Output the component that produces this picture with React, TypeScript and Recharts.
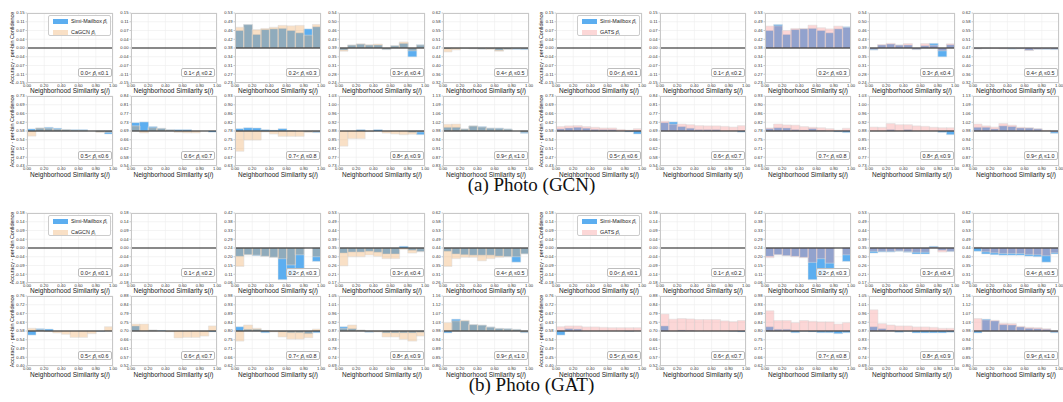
import React from "react";
import { BarChart, Bar, XAxis, YAxis, CartesianGrid, ReferenceLine } from "recharts";

// bins of neighborhood similarity
const binCenters = [0.05, 0.15, 0.25, 0.35, 0.45, 0.55, 0.65, 0.75, 0.85, 0.95];
const xTicks = [0, 0.2, 0.4, 0.6, 0.8, 1];
const confEdges = ["0.0", "0.1", "0.2", "0.3", "0.4", "0.5", "0.6", "0.7", "0.8", "0.9", "1.0"];

// y tick labels, top to bottom
const yLabelsA = [
  ["0.15", "0.11", "0.07", "0.04", "0.00", "-0.04", "-0.07", "-0.11", "-0.15"],
  ["0.15", "0.11", "0.07", "0.04", "0.00", "-0.04", "-0.07", "-0.11", "-0.15"],
  ["0.53", "0.49", "0.46", "0.42", "0.38", "0.34", "0.31", "0.27", "0.23"],
  ["0.54", "0.50", "0.46", "0.43", "0.39", "0.35", "0.31", "0.28", "0.24"],
  ["0.62", "0.58", "0.55", "0.51", "0.47", "0.44", "0.40", "0.36", "0.32"],
  ["0.73", "0.69", "0.66", "0.62", "0.58", "0.54", "0.51", "0.47", "0.43"],
  ["0.84", "0.81", "0.77", "0.73", "0.69", "0.66", "0.62", "0.58", "0.54"],
  ["0.93", "0.90", "0.86", "0.82", "0.78", "0.75", "0.71", "0.67", "0.63"],
  ["1.03", "1.00", "0.96", "0.92", "0.88", "0.85", "0.81", "0.77", "0.73"],
  ["1.13", "1.09", "1.06", "1.02", "0.98", "0.94", "0.91", "0.87", "0.83"],
];
const yLabelsB = [
  ["0.18", "0.14", "0.09", "0.04", "0.00", "-0.04", "-0.09", "-0.14", "-0.18"],
  ["0.18", "0.14", "0.09", "0.04", "0.00", "-0.04", "-0.09", "-0.14", "-0.18"],
  ["0.42", "0.38", "0.33", "0.29", "0.24", "0.20", "0.15", "0.11", "0.06"],
  ["0.53", "0.49", "0.44", "0.39", "0.35", "0.30", "0.26", "0.21", "0.17"],
  ["0.62", "0.58", "0.53", "0.49", "0.44", "0.40", "0.35", "0.31", "0.26"],
  ["0.76", "0.72", "0.67", "0.63", "0.58", "0.54", "0.49", "0.45", "0.40"],
  ["0.88", "0.84", "0.79", "0.75", "0.70", "0.66", "0.61", "0.57", "0.52"],
  ["0.98", "0.93", "0.89", "0.84", "0.80", "0.75", "0.71", "0.66", "0.62"],
  ["1.05", "1.01", "0.96", "0.92", "0.87", "0.83", "0.78", "0.74", "0.69"],
  ["1.16", "1.12", "1.07", "1.03", "0.98", "0.94", "0.89", "0.85", "0.80"],
];
const halfRangeA = 0.15;
const halfRangeB = 0.18;

// (a) Photo (GCN): accuracy - confidence per bin, one row per confidence range
const simiA = [
  [0, 0, 0, 0, 0, 0, 0, 0, 0, 0],
  [0, 0, 0, 0, 0, 0, 0, 0, 0, 0],
  [0.075, 0.101, 0.058, 0.079, 0.082, 0.084, 0.075, 0.065, 0.082, 0.091],
  [-0.009, 0.013, 0.017, 0.013, 0.013, -0.007, 0.010, 0.020, -0.038, 0.014],
  [-0.004, -0.002, -0.002, -0.003, -0.005, -0.004, -0.010, -0.006, -0.006, -0.007],
  [0.009, 0.013, 0.016, 0.012, 0.007, 0.006, 0.006, 0.000, -0.004, -0.013],
  [0.036, 0.039, 0.019, 0.012, 0.006, 0.006, 0.006, 0.000, 0.000, -0.005],
  [0.010, 0.014, 0.013, 0.006, 0.004, 0.010, 0.002, 0.000, -0.004, -0.007],
  [0.000, 0.000, 0.006, 0.000, 0.006, 0.000, 0.000, 0.000, -0.006, -0.016],
  [0.016, 0.016, 0.009, 0.022, 0.019, 0.013, 0.013, 0.009, 0.000, -0.010],
];
const cagcnA = [
  [0, 0, 0, 0, 0, 0, 0, 0, 0, 0],
  [0, 0, 0, 0, 0, 0, 0, 0, 0, 0],
  [0.089, 0.100, 0.079, 0.084, 0.089, 0.097, 0.095, 0.097, 0.055, 0.101],
  [-0.014, 0.013, 0.018, 0.014, 0.017, -0.006, 0.010, 0.026, -0.012, 0.013],
  [-0.017, -0.008, -0.002, -0.003, -0.005, -0.006, -0.014, -0.006, -0.003, -0.004],
  [-0.022, 0.013, 0.012, 0.008, 0.006, 0.003, 0.002, 0.000, -0.006, -0.006],
  [0.022, -0.008, 0.014, 0.011, 0.005, -0.006, -0.008, -0.008, 0.000, 0.000],
  [-0.087, -0.039, -0.039, -0.004, -0.013, -0.023, -0.023, -0.023, -0.006, -0.004],
  [-0.065, -0.033, -0.033, -0.003, 0.000, -0.009, -0.013, -0.016, -0.014, -0.004],
  [0.029, 0.030, 0.009, 0.022, 0.017, 0.012, 0.011, 0.008, 0.000, -0.006],
];
const gatsA = [
  [0, 0, 0, 0, 0, 0, 0, 0, 0, 0],
  [0, 0, 0, 0, 0, 0, 0, 0, 0, 0],
  [0.094, 0.095, 0.075, 0.084, 0.084, 0.098, 0.087, 0.082, 0.094, 0.088],
  [-0.006, 0.015, 0.020, 0.013, 0.019, -0.006, 0.019, 0.012, -0.012, 0.018],
  [-0.003, -0.001, -0.002, -0.003, -0.002, -0.003, -0.011, -0.005, -0.004, -0.005],
  [0.019, 0.022, 0.023, 0.019, 0.016, 0.013, 0.013, 0.007, 0.004, 0.010],
  [0.042, 0.029, 0.030, 0.027, 0.023, 0.022, 0.022, 0.020, 0.017, 0.023],
  [0.013, 0.030, 0.026, 0.025, 0.019, 0.016, 0.014, 0.010, 0.004, 0.012],
  [0.017, 0.016, 0.032, 0.027, 0.027, 0.022, 0.020, 0.016, 0.014, 0.014],
  [0.030, 0.022, 0.017, 0.032, 0.025, 0.016, 0.014, 0.010, 0.003, -0.004],
];

// (b) Photo (GAT)
const simiB = [
  [0, 0, 0, 0, 0, 0, 0, 0, 0, 0],
  [0, 0, 0, 0, 0, 0, 0, 0, 0, 0],
  [-0.043, -0.035, -0.040, -0.043, -0.048, -0.163, -0.142, -0.112, 0.000, -0.069],
  [-0.026, -0.021, -0.021, -0.017, -0.022, -0.031, -0.031, 0.009, -0.012, -0.019],
  [-0.017, -0.031, -0.035, -0.037, -0.037, -0.037, -0.042, -0.045, -0.073, -0.031],
  [-0.021, 0.012, 0.010, 0.000, 0.000, 0.000, 0.000, 0.000, -0.002, 0.000],
  [0.026, 0.000, 0.005, 0.003, 0.000, 0.000, 0.000, 0.000, -0.002, -0.005],
  [0.022, 0.009, 0.009, -0.009, -0.002, -0.005, -0.009, -0.009, -0.014, -0.009],
  [0.022, 0.012, 0.005, -0.007, -0.003, -0.010, -0.010, -0.010, -0.010, -0.007],
  [-0.010, 0.061, 0.052, 0.033, 0.031, 0.021, 0.014, 0.012, 0.009, -0.009],
];
const cagcnB = [
  [0, 0, 0, 0, 0, 0, 0, 0, 0, 0],
  [0, 0, 0, 0, 0, 0, 0, 0, 0, 0],
  [-0.095, -0.035, -0.037, -0.043, -0.048, -0.055, -0.087, -0.035, 0.000, -0.045],
  [-0.092, -0.045, -0.045, -0.036, -0.043, -0.055, -0.055, -0.007, -0.026, -0.019],
  [-0.095, -0.055, -0.048, -0.048, -0.066, -0.055, -0.048, -0.045, -0.045, -0.030],
  [0.014, 0.007, -0.003, -0.010, -0.017, -0.033, -0.033, -0.014, 0.000, 0.022],
  [0.036, 0.036, 0.005, 0.000, -0.004, -0.036, -0.033, -0.033, -0.026, 0.026],
  [-0.052, 0.031, 0.014, 0.003, -0.005, -0.031, -0.042, -0.042, -0.035, 0.010],
  [0.014, 0.031, 0.005, -0.003, -0.005, -0.031, -0.031, -0.043, -0.052, -0.026],
  [0.043, 0.052, 0.055, 0.033, 0.030, 0.020, 0.013, 0.011, 0.008, -0.006],
];
const gatsB = [
  [0, 0, 0, 0, 0, 0, 0, 0, 0, 0],
  [0, 0, 0, 0, 0, 0, 0, 0, 0, 0],
  [-0.050, -0.035, -0.040, -0.045, -0.050, -0.074, -0.055, -0.078, 0.000, -0.035],
  [-0.017, -0.017, -0.017, -0.015, -0.019, -0.022, -0.022, 0.005, -0.021, -0.017],
  [0.004, -0.020, -0.025, -0.028, -0.028, -0.028, -0.033, -0.035, -0.040, -0.025],
  [0.022, 0.026, 0.026, 0.021, 0.021, 0.019, 0.017, 0.017, 0.017, 0.017],
  [0.087, 0.061, 0.064, 0.062, 0.059, 0.059, 0.059, 0.052, 0.048, 0.054],
  [0.104, 0.054, 0.054, 0.043, 0.054, 0.050, 0.047, 0.047, 0.036, 0.043],
  [0.109, 0.038, 0.031, 0.026, 0.026, 0.021, 0.021, 0.019, 0.014, 0.014],
  [0.064, 0.057, 0.055, 0.040, 0.038, 0.024, 0.019, 0.017, 0.012, -0.005],
];

const BLUE = "#5caef0";
const PEACH = "#eea65c";
const PINK = "#f68d8d";
const OVERLAY_ALPHA = 0.35;

const PW = 86; // plot width
const PH = 70; // plot height
const YW = 22;
const MT = 3;
const XH = 12;
const MR = 6;
const SANS = "'Liberation Sans', Arial, sans-serif";

const colLeftsL = [27, 130.5, 235, 339, 443];
const colLeftsR = [556, 660, 765, 869, 973];

type PanelProps = {
  left: number;
  top: number;
  r: number;
  labels: string[];
  simi: number[];
  other: number[];
  otherColor: string;
  idx: number;
  legendName?: string;
};

function Panel({ left, top, r, labels, simi, other, otherColor, idx, legendName }: PanelProps) {
  const data = binCenters.map((x, i) => ({ x, s: simi[i], o: other[i] }));
  const step = r / 4;
  const yTicks = [-4, -3, -2, -1, 0, 1, 2, 3, 4].map((k) => k * step);
  const fmtY = (v: number) => labels[4 - Math.round(v / step)];
  const W = YW + PW + MR;
  const H = MT + PH + XH;
  return (
    <div style={{ position: "absolute", left: left - YW, top: top - MT, width: W, height: H }}>
      <BarChart width={W} height={H} data={data} margin={{ top: MT, right: MR, left: 0, bottom: 0 }} barCategoryGap={0} barGap={0}>
        <CartesianGrid xAxisId="n" stroke="#ededed" strokeWidth={0.6} />
        <XAxis
          xAxisId="n"
          type="number"
          dataKey="x"
          domain={[0, 1]}
          ticks={xTicks}
          interval={0}
          allowDataOverflow
          tickFormatter={(v: number) => v.toFixed(2)}
          height={XH}
          tickSize={1.2}
          tickMargin={0.3}
          tickLine={{ stroke: "#999", strokeWidth: 0.5 }}
          axisLine={false}
          tick={{ fontSize: 4.2, fill: "#333", fontFamily: SANS }}
        />
        <XAxis xAxisId="o" type="number" dataKey="x" domain={[0, 1]} allowDataOverflow hide />
        <YAxis
          type="number"
          domain={[-r, r]}
          ticks={yTicks}
          interval={0}
          allowDataOverflow
          tickFormatter={fmtY}
          width={YW}
          tickSize={1.5}
          tickMargin={1}
          tickLine={{ stroke: "#999", strokeWidth: 0.5 }}
          axisLine={false}
          tick={{ fontSize: 4.2, fill: "#333", fontFamily: SANS }}
        />
        <Bar xAxisId="n" dataKey="s" fill={BLUE} stroke="#e4e4e4" strokeWidth={0.5} isAnimationActive={false} />
        <Bar xAxisId="o" dataKey="o" fill={otherColor} fillOpacity={OVERLAY_ALPHA} stroke="#dcdcdc" strokeWidth={0.5} isAnimationActive={false} />
        <ReferenceLine xAxisId="n" y={0} stroke="#000" strokeOpacity={0.45} strokeWidth={2} />
      </BarChart>
      <div
        style={{
          position: "absolute",
          left: YW,
          top: MT,
          width: PW,
          height: PH,
          boxSizing: "border-box",
          border: "0.8px solid #c8c8c8",
          pointerEvents: "none",
        }}
      />
      <div
        style={{
          position: "absolute",
          right: MR + 1.5,
          top: MT + PH - 15,
          height: 9,
          boxSizing: "border-box",
          padding: "0 2px",
          border: "0.7px solid #bdbdbd",
          borderRadius: 2,
          background: "rgba(255,255,255,0.85)",
          fontFamily: SANS,
          fontSize: 5.4,
          lineHeight: "8px",
          color: "#222",
          whiteSpace: "nowrap",
        }}
      >
        {confEdges[idx]}&lt; <i>p&#770;</i>
        <sub style={{ fontSize: 3.6, verticalAlign: "-1px" }}>i</sub> &le;{confEdges[idx + 1]}
      </div>
      <div
        style={{
          position: "absolute",
          left: YW - 10,
          width: PW + 20,
          top: MT + PH + 5.6,
          textAlign: "center",
          fontFamily: SANS,
          fontSize: 6.5,
          lineHeight: 1,
          color: "#222",
          whiteSpace: "nowrap",
        }}
      >
        Neighborhood Similarity s(<i>i</i>)
      </div>
      {legendName && (
        <div
          style={{
            position: "absolute",
            left: YW + 21,
            top: MT + 2.2,
            width: 63,
            height: 21,
            boxSizing: "border-box",
            border: "0.7px solid #cccccc",
            borderRadius: 2,
            background: "rgba(255,255,255,0.9)",
            fontFamily: SANS,
            fontSize: 5.4,
            color: "#222",
          }}
        >
          {[
            { name: "Simi-Mailbox", color: BLUE, op: 1 },
            { name: legendName, color: otherColor, op: OVERLAY_ALPHA },
          ].map((e, k) => (
            <div key={k} style={{ position: "absolute", left: 3.5, top: 3 + k * 10.5, height: 6, display: "flex", alignItems: "center", whiteSpace: "nowrap" }}>
              <span style={{ display: "inline-block", width: 15, height: 5, background: e.color, opacity: e.op, marginRight: 3.5 }} />
              <span>
                {e.name} <i>p&#771;</i>
                <sub style={{ fontSize: 3.6, verticalAlign: "-1px" }}>i</sub>
              </span>
            </div>
          ))}
        </div>
      )}
    </div>
  );
}

function YLabel({ cx, cy }: { cx: number; cy: number }) {
  return (
    <div
      style={{
        position: "absolute",
        left: cx,
        top: cy,
        transform: "translate(-50%, -50%) rotate(-90deg)",
        fontFamily: SANS,
        fontSize: 5.4,
        lineHeight: 1,
        color: "#222",
        whiteSpace: "nowrap",
      }}
    >
      Accuracy - per-bin Confidence
    </div>
  );
}

function Group({ rowTops, r, labels, simi, cagcn, gats }: { rowTops: number[]; r: number; labels: string[][]; simi: number[][]; cagcn: number[][]; gats: number[][] }) {
  const out: React.ReactNode[] = [];
  const halves = [
    { lefts: colLeftsL, other: cagcn, color: PEACH, name: "CaGCN" },
    { lefts: colLeftsR, other: gats, color: PINK, name: "GATS" },
  ];
  halves.forEach((h, hi) => {
    for (let k = 0; k < 10; k++) {
      const row = Math.floor(k / 5);
      const col = k % 5;
      out.push(
        <Panel
          key={`${hi}-${k}`}
          left={h.lefts[col]}
          top={rowTops[row]}
          r={r}
          labels={labels[k]}
          simi={simi[k]}
          other={h.other[k]}
          otherColor={h.color}
          idx={k}
          legendName={k === 0 ? h.name : undefined}
        />
      );
    }
    rowTops.forEach((t, ri) => out.push(<YLabel key={`yl-${hi}-${ri}`} cx={h.lefts[0] - 14.5} cy={t + PH / 2} />));
  });
  return <>{out}</>;
}

export default function App() {
  return (
    <div style={{ position: "absolute", left: 0, top: 0, width: 1063, height: 402, background: "#fff", overflow: "hidden" }}>
      <Group rowTops={[12.5, 96.3]} r={halfRangeA} labels={yLabelsA} simi={simiA} cagcn={cagcnA} gats={gatsA} />
      <Group rowTops={[212.5, 296.3]} r={halfRangeB} labels={yLabelsB} simi={simiB} cagcn={cagcnB} gats={gatsB} />
      <div style={{ position: "absolute", left: 0, width: 1063, top: 175, textAlign: "center", fontFamily: "'Liberation Serif', serif", fontSize: 19, lineHeight: "20px", color: "#111" }}>
        (a) Photo (GCN)
      </div>
      <div style={{ position: "absolute", left: 0, width: 1063, top: 375, textAlign: "center", fontFamily: "'Liberation Serif', serif", fontSize: 19, lineHeight: "20px", color: "#111" }}>
        (b) Photo (GAT)
      </div>
    </div>
  );
}
